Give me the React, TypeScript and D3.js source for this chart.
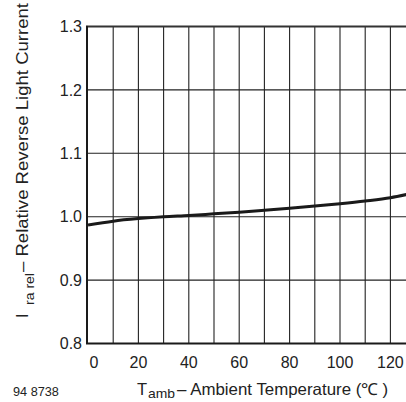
import React from "react";
import * as d3 from "d3";

const temps = [0, 10, 20, 30, 40, 50, 60, 70, 80, 90, 100, 110, 120, 127];
const irel = [0.987, 0.993, 0.997, 1.0, 1.002, 1.0045, 1.007, 1.0100, 1.0132, 1.0167, 1.0205, 1.0248, 1.0300, 1.0355];
const xTickLabels = [0, 20, 40, 60, 80, 100, 120];
const yTickLabels = [0.8, 0.9, 1.0, 1.1, 1.2, 1.3];
const xGrid = [10, 20, 30, 40, 50, 60, 70, 80, 90, 100, 110, 120];
const yGrid = [0.9, 1.0, 1.1, 1.2];

export default function App() {
  const W = 406, H = 402;
  const left = 88, top = 26.5, bottom = 343.5;
  const x = d3.scaleLinear().domain([0, 10]).range([left, left + 25.2]);
  const y = d3.scaleLinear().domain([0.8, 1.3]).range([bottom, top]);
  const right = x(128);
  const line = d3.line<number>().x((_, i) => x(temps[i])).y((d) => y(d)).curve(d3.curveMonotoneX);
  const font = "Arial, 'Liberation Sans', Helvetica, sans-serif";
  return (
    <svg width={W} height={H} style={{ position: "absolute", left: 0, top: 0 }} fontFamily={font}>
      <rect width={W} height={H} fill="#fff" />
      <defs>
        <clipPath id="clip">
          <rect x={left} y={top - 2} width={W - left} height={bottom - top + 4} />
        </clipPath>
      </defs>
      <g clipPath="url(#clip)">
        {xGrid.map((t) => (
          <line key={"x" + t} x1={x(t)} x2={x(t)} y1={top} y2={bottom} stroke="#222" strokeWidth={1.1} />
        ))}
        {yGrid.map((v) => (
          <line key={"y" + v} x1={left} x2={right} y1={y(v)} y2={y(v)} stroke="#222" strokeWidth={1.1} />
        ))}
        <path d={line(irel) || ""} fill="none" stroke="#1a1a1a" strokeWidth={3} />
      </g>
      <line x1={left} x2={right} y1={top} y2={top} stroke="#333" strokeWidth={2} />
      <line x1={left} x2={right} y1={bottom} y2={bottom} stroke="#1a1a1a" strokeWidth={2} />
      <line x1={left - 1} x2={left - 1} y1={top - 1} y2={bottom + 1} stroke="#1a1a1a" strokeWidth={2} />
      {yTickLabels.map((v) => (
        <text key={"yl" + v} x={82} y={y(v)} dy="0.36em" textAnchor="end" fontSize={16} fill="#222">
          {v.toFixed(1)}
        </text>
      ))}
      {xTickLabels.map((t, i) => (
        <text key={"xl" + t} x={x(t) + (i === 0 ? 6 : 0)} y={367.5} textAnchor="middle" fontSize={16} fill="#222">
          {t}
        </text>
      ))}
      <text y={395} fontSize={16.5} fill="#222">
        <tspan x={137}>T</tspan>
        <tspan x={148} dy={3} fontSize={13.5} textLength={27} lengthAdjust="spacingAndGlyphs">amb</tspan>
        <tspan x={177} dy={-3} textLength={211} lengthAdjust="spacingAndGlyphs">– Ambient Temperature (℃ )</tspan>
      </text>
      <text x={13} y={396} fontSize={12.7} fill="#222">94 8738</text>
      <text transform="translate(28,318) rotate(-90)" fontSize={16.5} fill="#222">
        <tspan x={0}>I</tspan>
        <tspan x={13} dy={6} fontSize={12.5} textLength={32} lengthAdjust="spacingAndGlyphs">ra rel</tspan>
        <tspan x={46} dy={-6} textLength={269} lengthAdjust="spacingAndGlyphs">– Relative Reverse Light Current</tspan>
      </text>
    </svg>
  );
}
